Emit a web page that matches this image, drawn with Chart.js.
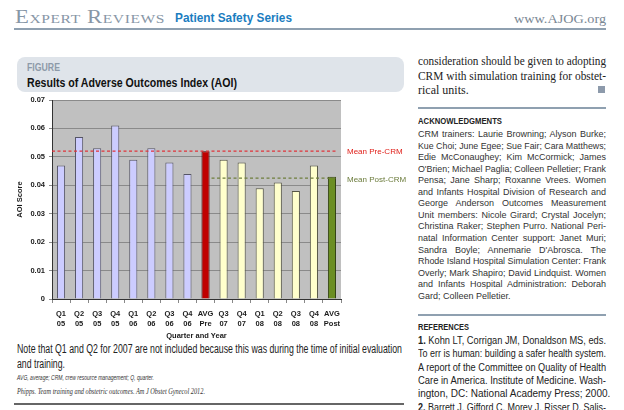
<!DOCTYPE html>
<html><head><meta charset="utf-8">
<script src="https://cdn.jsdelivr.net/npm/chart.js@4.4.0/dist/chart.umd.min.js"></script>
<style>
html,body{margin:0;padding:0;background:#fff;}
body{width:624px;height:410px;position:relative;overflow:hidden;font-family:"Liberation Sans",Arial,sans-serif;color:#222;}
.a{position:absolute;white-space:nowrap;line-height:1;}
.fit{display:inline-block;transform-origin:0 0;}
.rule{position:absolute;}
#chartBox{position:absolute;left:0;top:90px;width:410px;height:252px;}
</style></head>
<body>
<!-- header -->
<div class="a" style="left:15px;top:7px;font-family:'Liberation Serif',serif;font-size:19px;font-variant:small-caps;color:#8796a6;letter-spacing:0.5px;"><span class="fit" data-w="150">Expert Reviews</span></div>
<div class="a" style="left:175px;top:11px;font-weight:bold;font-size:13px;color:#1b7dbf;"><span class="fit" data-w="117">Patient Safety Series</span></div>
<div class="a" style="left:514px;top:12px;font-family:'Liberation Serif',serif;font-size:13px;color:#7a8794;"><span class="fit" data-w="92">www.AJOG.org</span></div>
<div class="rule" style="left:14px;top:28px;width:592px;height:2px;background:#8fa0b0;"></div>

<!-- figure header box -->
<div class="rule" style="left:17px;top:57px;width:387px;height:35px;background:#dfe4ea;border-radius:8px;"></div>
<div class="a" style="left:27px;top:63px;font-weight:bold;font-size:10px;color:#8d9aa8;"><span class="fit" data-w="33">FIGURE</span></div>
<div class="a" style="left:27px;top:76px;font-weight:bold;font-size:13.5px;color:#111;"><span class="fit" data-w="210">Results of Adverse Outcomes Index (AOI)</span></div>

<div id="chartBox"><canvas id="c"></canvas></div>

<!-- caption -->
<div class="a" style="left:17px;top:343px;font-size:12.5px;color:#222;"><span class="fit" data-w="385">Note that Q1 and Q2 for 2007 are not included because this was during the time of initial evaluation</span></div>
<div class="a" style="left:17px;top:358px;font-size:12.5px;color:#222;"><span class="fit" data-w="48">and training.</span></div>
<div class="a" style="left:17px;top:374px;font-size:7.5px;font-style:italic;color:#333;"><span class="fit" data-w="137">AVG, average; CRM, crew resource management; Q, quarter.</span></div>
<div class="a" style="left:17px;top:388px;font-size:8px;font-style:italic;font-family:'Liberation Serif',serif;color:#333;"><span class="fit" data-w="188">Phipps. Team training and obstetric outcomes. Am J Obstet Gynecol 2012.</span></div>
<div class="rule" style="left:14px;top:403px;width:390px;height:1.5px;background:#666;"></div>

<!-- right column -->
<div id="rc"></div>

<script>
// ---------------- data ----------------
const quarters = ['Q1','Q2','Q3','Q4','Q1','Q2','Q3','Q4','AVG','Q3','Q4','Q1','Q2','Q3','Q4','AVG'];
const years    = ['05','05','05','05','06','06','06','06','Pre','07','07','08','08','08','08','Post'];
const period   = ['pre','pre','pre','pre','pre','pre','pre','pre','avgPre','post','post','post','post','post','post','avgPost'];
const aoiScores = [0.047,0.057,0.053,0.061,0.049,0.053,0.048,0.044,0.052,0.049,0.048,0.039,0.041,0.038,0.047,0.043];
const meanPreCRM = 0.052;
const meanPostCRM = 0.0425;
const yTicks = [0,0.01,0.02,0.03,0.04,0.05,0.06,0.07];

// ---------------- right column text ----------------
const rightIntro = ['consideration should be given to adopting','CRM with simulation training for obstet-','rical units.'];
const ackLines = ['CRM trainers: Laurie Browning; Alyson Burke;','Kue Choi; June Egee; Sue Fair; Cara Matthews;','Edie McConaughey; Kim McCormick; James',"O'Brien; Michael Paglia; Colleen Pelletier; Frank",'Pensa; Jane Sharp; Roxanne Vrees. Women','and Infants Hospital Division of Research and','George Anderson Outcomes Measurement','Unit members: Nicole Girard; Crystal Jocelyn;','Christina Raker; Stephen Purro. National Peri-','natal Information Center support: Janet Muri;',"Sandra Boyle; Annemarie D'Abrosca. The",'Rhode Island Hospital Simulation Center: Frank','Overly; Mark Shapiro; David Lindquist. Women','and Infants Hospital Administration: Deborah','Gard; Colleen Pelletier.'];
const refLines = ['<b>1.</b> Kohn LT, Corrigan JM, Donaldson MS, eds.','To err is human: building a safer health system.','A report of the Committee on Quality of Health','Care in America. Institute of Medicine. Wash-','ington, DC: National Academy Press; 2000.','<b>2.</b> Barrett J, Gifford C, Morey J, Risser D, Salis-'];

const rc = document.getElementById('rc');
function addLine(html, left, top, size, w, style, justify){
  const d = document.createElement('div');
  d.className='a';
  d.style.cssText = `left:${left}px;top:${top}px;font-size:${size}px;${style||''}`;
  const s = document.createElement('span');
  s.className='fit'; s.innerHTML = html;
  if (justify) s.dataset.j = w; else if (w) s.dataset.w = w;
  d.appendChild(s); rc.appendChild(d);
}
rightIntro.forEach((t,i)=>addLine(t,418,55+i*14.5,12,i<2?188:0,"font-family:'Liberation Serif',serif;color:#222;", i<2));
rc.insertAdjacentHTML('beforeend','<div class="rule" style="left:598px;top:86px;width:7px;height:7px;background:#8d9aab;"></div>');
rc.insertAdjacentHTML('beforeend','<div class="rule" style="left:418px;top:107px;width:188px;height:2px;background:#8fa0b0;"></div>');
addLine('ACKNOWLEDGMENTS',418,116,9.5,84,'font-weight:bold;color:#222;',false);
ackLines.forEach((t,i)=>{ const last = i===ackLines.length-1; addLine(t,418,130+i*11.55,9,last?0:188,'color:#333;', !last); });
rc.insertAdjacentHTML('beforeend','<div class="rule" style="left:418px;top:314px;width:188px;height:2px;background:#8fa0b0;"></div>');
addLine('REFERENCES',418,322,9.5,51,'font-weight:bold;color:#222;',false);
refLines.forEach((t,i)=>addLine(t,418,336+i*13.3,10,i===4?0:188,'color:#222;', i!==4));

// fit helpers
document.querySelectorAll('.fit').forEach(s=>{
  const nat = s.getBoundingClientRect().width;
  if (s.dataset.w){
    s.style.transform = `scaleX(${(+s.dataset.w)/nat})`;
  } else if (s.dataset.j){
    const target = +s.dataset.j;
    const spaces = (s.textContent.match(/ /g)||[]).length;
    if (nat > target || spaces===0){
      s.style.transform = `scaleX(${target/nat})`;
    } else {
      s.style.wordSpacing = ((target-nat)/spaces)+'px';
    }
  }
});

// ---------------- chart ----------------
const colorFor = {pre:'#ccccff', avgPre:'#c00000', post:'#ffffcc', avgPost:'#6b8e23'};
const borderFor = {pre:'#555566', avgPre:'#400000', post:'#555544', avgPost:'#2f3f10'};

const bgPlugin = {
  id:'plotBg',
  beforeDraw(chart){
    const {ctx, chartArea:a} = chart;
    ctx.save(); ctx.fillStyle='#c0c0c0';
    ctx.fillRect(a.left,a.top,a.right-a.left,a.bottom-a.top);
    ctx.restore();
  }
};
const meanPlugin = {
  id:'meanLines',
  afterDatasetsDraw(chart){
    const {ctx, chartArea:a, scales:{x,y}} = chart;
    ctx.save();
    ctx.lineWidth = 1.2;
    let yp = y.getPixelForValue(meanPreCRM);
    ctx.setLineDash([3,2.5]); ctx.strokeStyle='#e0333a';
    ctx.beginPath(); ctx.moveTo(a.left, yp); ctx.lineTo(a.right-3, yp); ctx.stroke();
    let ypo = y.getPixelForValue(meanPostCRM);
    ctx.strokeStyle='#6e7e3c';
    const xs = x.getPixelForValue(period.indexOf('avgPre')) + 6;
    ctx.beginPath(); ctx.moveTo(xs, ypo); ctx.lineTo(a.right-3, ypo); ctx.stroke();
    ctx.setLineDash([]);
    ctx.font = '8px "Liberation Sans", Arial, sans-serif';
    ctx.textBaseline='middle'; ctx.textAlign='left';
    ctx.fillStyle='#e0201a'; ctx.fillText('Mean Pre-CRM', a.right+6, yp+1);
    ctx.fillStyle='#6b7b3b'; ctx.fillText('Mean Post-CRM', a.right+6, ypo+2);
    ctx.restore();
  }
};

new Chart(document.getElementById('c'), {
  type:'bar',
  data:{
    labels: quarters.map((q,i)=>[q, years[i]]),
    datasets:[{
      data: aoiScores,
      backgroundColor: period.map(p=>colorFor[p]),
      borderColor: period.map(p=>borderFor[p]),
      borderWidth: 1,
      categoryPercentage: 1,
      barPercentage: 0.45
    }]
  },
  options:{
    responsive:true, maintainAspectRatio:false, animation:false,
    devicePixelRatio: 1,
    layout:{padding:{top:10,right:69,left:0,bottom:0}},
    plugins:{legend:{display:false}, tooltip:{enabled:false}},
    scales:{
      x:{
        afterFit(s){ s.height = 43; },
        grid:{offset:true, drawOnChartArea:false, drawTicks:true, tickLength:4, color:'#888'},
        border:{color:'#333', width:1},
        ticks:{font:{family:'"Liberation Sans", Arial, sans-serif', size:7.5, weight:'bold', lineHeight:1.35}, color:'#1a1a1a', padding:6, maxRotation:0, autoSkip:false},
        title:{display:true, text:'Quarter and Year', font:{family:'"Liberation Sans", Arial, sans-serif', size:7.5, weight:'bold'}, color:'#1a1a1a', padding:{top:0,bottom:2}}
      },
      y:{
        min:0, max:0.07,
        afterFit(s){ s.width = 52; },
        afterBuildTicks(s){ s.ticks = yTicks.map(v=>({value:v})); },
        grid:{color:'#8a8a8a', lineWidth:1, tickLength:3, drawTicks:true},
        border:{color:'#333', width:1},
        ticks:{font:{family:'"Liberation Sans", Arial, sans-serif', size:7.5, weight:'bold'}, color:'#1a1a1a', padding:4,
          callback:(v)=> v===0 ? '0' : v.toFixed(2)},
        title:{display:true, text:'AOI Score', font:{family:'"Liberation Sans", Arial, sans-serif', size:7.5, weight:'bold'}, color:'#1a1a1a', padding:{top:15,bottom:0}}
      }
    }
  },
  plugins:[bgPlugin, meanPlugin]
});
</script>
</body></html>
